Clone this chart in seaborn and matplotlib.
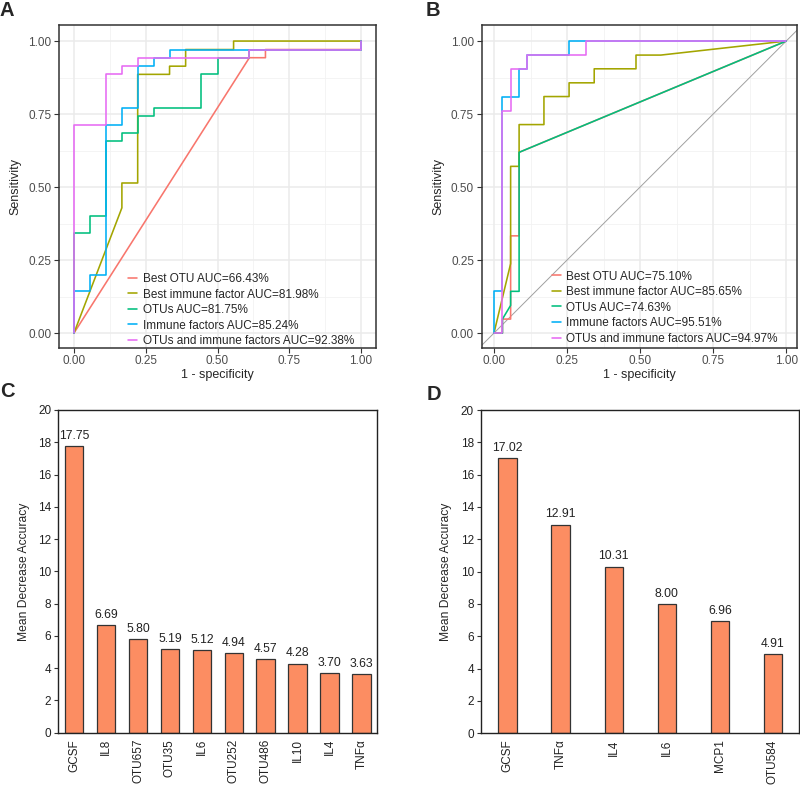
import numpy as np
import pandas as pd
import matplotlib
matplotlib.use("Agg")
import matplotlib.pyplot as plt
import seaborn as sns

sns.set_theme(style="white")
plt.rcParams['font.family'] = ['Liberation Sans', 'DejaVu Sans']

# ---------------- data ----------------
model_names = ["Best OTU", "Best immune factor", "OTUs", "Immune factors", "OTUs and immune factors"]
auc_A = ["66.43%", "81.98%", "81.75%", "85.24%", "92.38%"]
auc_B = ["75.10%", "85.65%", "74.63%", "95.51%", "94.97%"]

# Panel A ROC paths (1 - specificity, sensitivity)
fpr_A_best_otu = [0, 0.611, 0.667, 0.667, 1.0, 1.0]
tpr_A_best_otu = [0, 0.943, 0.943, 0.971, 0.971, 1.0]
fpr_A_best_imm = [0, 0.167, 0.167, 0.222, 0.222, 0.333, 0.333, 0.389, 0.389, 0.556, 0.556, 1.0]
tpr_A_best_imm = [0, 0.429, 0.514, 0.514, 0.886, 0.886, 0.914, 0.914, 0.971, 0.971, 1.0, 1.0]
fpr_A_otus = [0, 0, 0.056, 0.056, 0.111, 0.111, 0.167, 0.167, 0.222, 0.222, 0.278, 0.278,
              0.444, 0.444, 0.5, 0.5, 0.611, 0.611, 1.0, 1.0]
tpr_A_otus = [0, 0.343, 0.343, 0.4, 0.4, 0.657, 0.657, 0.686, 0.686, 0.743, 0.743, 0.771,
              0.771, 0.886, 0.886, 0.943, 0.943, 0.971, 0.971, 1.0]
fpr_A_imm = [0, 0, 0.056, 0.056, 0.111, 0.111, 0.167, 0.167, 0.222, 0.222, 0.278, 0.278,
             0.333, 0.333, 1.0, 1.0]
tpr_A_imm = [0, 0.143, 0.143, 0.2, 0.2, 0.714, 0.714, 0.771, 0.771, 0.914, 0.914, 0.943,
             0.943, 0.971, 0.971, 1.0]
fpr_A_both = [0, 0, 0.111, 0.111, 0.167, 0.167, 0.222, 0.222, 0.611, 0.611, 1.0, 1.0]
tpr_A_both = [0, 0.714, 0.714, 0.886, 0.886, 0.914, 0.914, 0.943, 0.943, 0.971, 0.971, 1.0]

# Panel B ROC paths
fpr_B_best_otu = [0, 0.029, 0.029, 0.057, 0.057, 0.086, 0.086, 1.0]
tpr_B_best_otu = [0, 0, 0.048, 0.048, 0.333, 0.333, 0.619, 1.0]
fpr_B_best_imm = [0, 0.057, 0.057, 0.086, 0.086, 0.171, 0.171, 0.257, 0.257, 0.343, 0.343,
                  0.486, 0.486, 0.571, 1.0]
tpr_B_best_imm = [0, 0.238, 0.571, 0.571, 0.714, 0.714, 0.810, 0.810, 0.857, 0.857, 0.905,
                  0.905, 0.952, 0.952, 1.0]
fpr_B_otus = [0, 0.029, 0.029, 0.057, 0.057, 0.086, 0.086, 1.0]
tpr_B_otus = [0, 0, 0.048, 0.095, 0.143, 0.143, 0.619, 1.0]
fpr_B_imm = [0, 0, 0.029, 0.029, 0.086, 0.086, 0.114, 0.114, 0.257, 0.257, 1.0]
tpr_B_imm = [0, 0.143, 0.143, 0.810, 0.810, 0.905, 0.905, 0.952, 0.952, 1.0, 1.0]
fpr_B_both = [0, 0.029, 0.029, 0.057, 0.057, 0.114, 0.114, 0.314, 0.314, 1.0]
tpr_B_both = [0, 0, 0.762, 0.762, 0.905, 0.905, 0.952, 0.952, 1.0, 1.0]

# Panel C / D importance
feat_C = ["GCSF", "IL8", "OTU657", "OTU35", "IL6", "OTU252", "OTU486", "IL10", "IL4", "TNFα"]
mda_C = [17.75, 6.69, 5.80, 5.19, 5.12, 4.94, 4.57, 4.28, 3.70, 3.63]
feat_D = ["GCSF", "TNFα", "IL4", "IL6", "MCP1", "OTU584"]
mda_D = [17.02, 12.91, 10.31, 8.00, 6.96, 4.91]

roc_colors = ["#F8766D", "#A3A500", "#00BF7D", "#00B0F6", "#E76BF3"]
bar_color = "#FC8D62"

W, H = 800, 785
fig = plt.figure(figsize=(W / 100, H / 100), dpi=100)


def rect(l, r, t, b):
    return [l / W, 1 - b / H, (r - l) / W, (b - t) / H]


def build_df(paths, aucs):
    rows = []
    for name, auc, (fx, ty) in zip(model_names, aucs, paths):
        lab = f"{name} AUC={auc}"
        for i, (x, y) in enumerate(zip(fx, ty)):
            rows.append((lab, i, x, y))
    return pd.DataFrame(rows, columns=["model", "order", "fpr", "tpr"])


def roc_panel(ax, df, xlim, ylim, leg_xy, diag=False):
    ax.set_facecolor("white")
    ax.set_xlim(*xlim)
    ax.set_ylim(*ylim)
    ticks = [0, 0.25, 0.5, 0.75, 1.0]
    minors = [0.125, 0.375, 0.625, 0.875]
    for t in minors:
        ax.axvline(t, color="#F2F2F2", lw=0.6, zorder=0)
        ax.axhline(t, color="#F2F2F2", lw=0.6, zorder=0)
    for t in ticks:
        ax.axvline(t, color="#EBEBEB", lw=1.1, zorder=0)
        ax.axhline(t, color="#EBEBEB", lw=1.1, zorder=0)
    if diag:
        ax.axline((0, 0), (1, 1), color="#A0A0A0", lw=0.7, zorder=1)
    sns.lineplot(data=df, x="fpr", y="tpr", hue="model", sort=False, estimator=None,
                 palette=roc_colors, lw=1.15, ax=ax, zorder=2)
    ax.set_xticks(ticks)
    ax.set_yticks(ticks)
    ax.set_xticklabels(["0.00", "0.25", "0.50", "0.75", "1.00"])
    ax.set_yticklabels(["0.00", "0.25", "0.50", "0.75", "1.00"])
    ax.tick_params(axis="both", which="both", length=3.5, width=0.8, color="#333333",
                   labelsize=8.5, labelcolor="#4D4D4D", pad=2, direction="out",
                   bottom=True, left=True)
    for s in ax.spines.values():
        s.set_color("#333333")
        s.set_linewidth(1.1)
        s.set_visible(True)
    ax.set_xlabel("1 - specificity", fontsize=9, labelpad=1)
    ax.set_ylabel("Sensitivity", fontsize=9, labelpad=5)
    h, l = ax.get_legend_handles_labels()
    ax.legend(h, l, loc="upper left", bbox_to_anchor=(leg_xy[0] / W, 1 - leg_xy[1] / H),
              bbox_transform=fig.transFigure, frameon=False, fontsize=8.5,
              handlelength=0.8, handletextpad=0.45, labelspacing=0.3,
              borderpad=0, borderaxespad=0)


axA = fig.add_axes(rect(59.3, 376, 25, 347.7))
dfA = build_df([(fpr_A_best_otu, tpr_A_best_otu), (fpr_A_best_imm, tpr_A_best_imm),
                (fpr_A_otus, tpr_A_otus), (fpr_A_imm, tpr_A_imm), (fpr_A_both, tpr_A_both)], auc_A)
roc_panel(axA, dfA, (-0.051, 1.052), (-0.050, 1.055), (128, 273))

axB = fig.add_axes(rect(481.7, 797.3, 25, 347.7))
dfB = build_df([(fpr_B_best_otu, tpr_B_best_otu), (fpr_B_best_imm, tpr_B_best_imm),
                (fpr_B_otus, tpr_B_otus), (fpr_B_imm, tpr_B_imm), (fpr_B_both, tpr_B_both)], auc_B)
roc_panel(axB, dfB, (-0.042, 1.038), (-0.050, 1.055), (551.5, 270.5), diag=True)


def bar_panel(ax, feats, vals, width):
    df = pd.DataFrame({"feature": feats, "mda": vals})
    sns.barplot(data=df, x="feature", y="mda", color=bar_color, saturation=1,
                width=width, edgecolor="#333333", linewidth=0.9, ax=ax)
    ax.set_xlim(-0.5, len(feats) - 0.5)
    ax.set_ylim(0, 20)
    ax.set_yticks(range(0, 21, 2))
    ax.set_xlabel("")
    ax.set_ylabel("Mean Decrease Accuracy", fontsize=8.7, labelpad=6)
    ax.tick_params(axis="y", length=3, width=0.8, labelsize=8.5, pad=2, left=True,
                   color="#333333", labelcolor="#222222")
    ax.tick_params(axis="x", length=0, labelsize=8.5, pad=4.5, rotation=90,
                   labelcolor="#222222")
    for lab in ax.get_xticklabels():
        lab.set_va("top")
    for s in ax.spines.values():
        s.set_color("#222222")
        s.set_linewidth(1.0)
        s.set_visible(True)
    for i, v in enumerate(vals):
        ax.annotate(f"{v:.2f}", (i, v), xytext=(0, 3), textcoords="offset points",
                    ha="center", va="bottom", fontsize=8.7, color="#222222")


axC = fig.add_axes(rect(58.3, 377.3, 410, 732.7))
bar_panel(axC, feat_C, mda_C, 0.575)

axD = fig.add_axes(rect(481, 799.5, 410, 733.3))
bar_panel(axD, feat_D, mda_D, 0.344)

for lab, x, y in [("A", 0, 1), ("B", 426, 1), ("C", 0, 382), ("D", 427, 385)]:
    fig.text(x / W, 1 - y / H, lab, fontsize=14.5, fontweight="bold", ha="left", va="top")

fig.savefig("out.png", dpi=100)
